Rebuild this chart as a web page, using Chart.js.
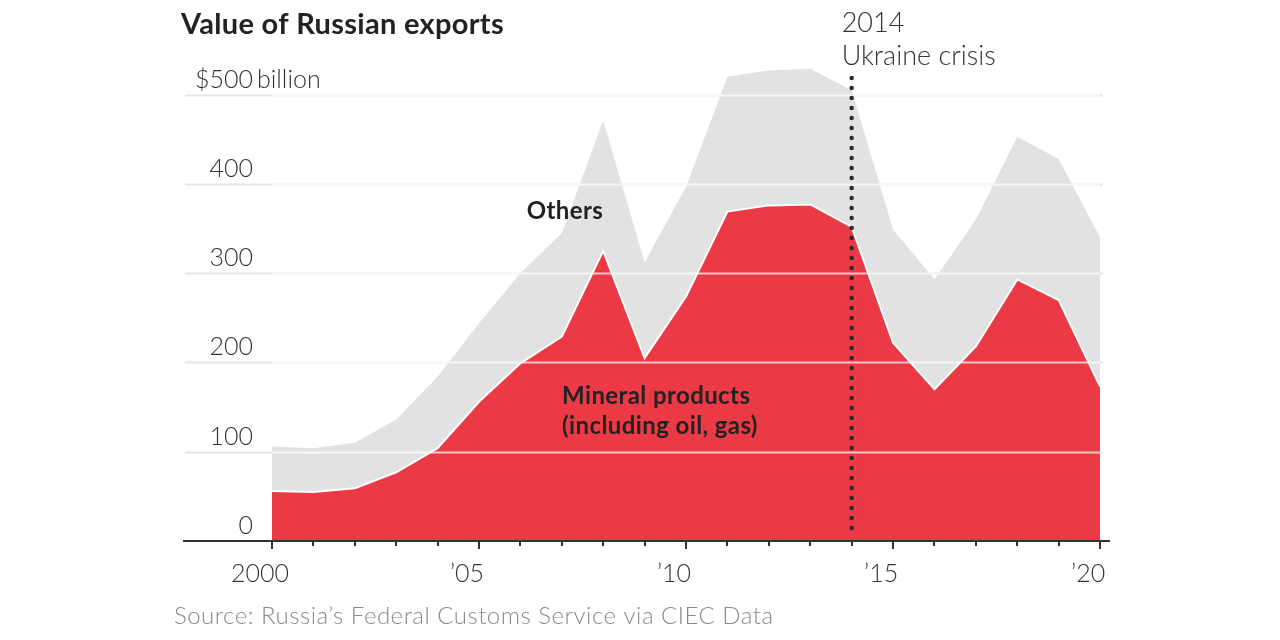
<!DOCTYPE html>
<html><head><meta charset="utf-8">
<script src="https://cdn.jsdelivr.net/npm/chart.js@4.4.1/dist/chart.umd.min.js"></script>
<style>html,body{margin:0;padding:0;background:#fff}#wrap{width:1280px;height:640px;position:relative}</style>
</head><body><div id="wrap"><canvas id="c" width="1280" height="640"></canvas></div>
<script>
const years = [2000,2001,2002,2003,2004,2005,2006,2007,2008,2009,2010,2011,2012,2013,2014,2015,2016,2017,2018,2019,2020];
const mineral = [56,55,59,77,104,156,199,229,325,205,274,369,376,377,352,222,170,218,293,270,173];
const total = [106,104,110,136,184,244,300,345,471,312,397,520,527,529,505,349,293,360,453,428,340];
const yTicks = [0,100,200,300,400,500];
const yLabels = ['0','100','200','300','400','$500'];
const xTickYears = years;
const xLabels = {2000:'2000',2005:'\u201905',2010:'\u201910',2015:'\u201915',2020:'\u201920'};
const eventYear = 2014;

const RED = '#eb3a45', GREY = '#e2e2e2', INK = '#333';
const FONT = 'Lato, "Open Sans", sans-serif';

const decor = {
  id: 'decor',
  beforeDatasetsDraw(chart) {
    const {ctx, chartArea: a, scales: {y}} = chart;
    ctx.save();
    ctx.strokeStyle = '#e6e6e6'; ctx.lineWidth = 2;
    yTicks.forEach(v => { if (v === 0) return; const py = Math.round(y.getPixelForValue(v)) + 0.5;
      ctx.beginPath(); ctx.moveTo(a.left, py); ctx.lineTo(a.right, py); ctx.stroke(); });
    ctx.restore();
  },
  afterDatasetsDraw(chart) {
    const {ctx, chartArea: a, scales: {x, y}} = chart;
    ctx.save();
    ctx.strokeStyle = 'rgba(255,255,255,0.7)'; ctx.lineWidth = 2;
    yTicks.forEach(v => { if (v === 0) return; const py = Math.round(y.getPixelForValue(v)) + 0.5;
      ctx.beginPath(); ctx.moveTo(x.getPixelForValue(years[0]), py); ctx.lineTo(x.getPixelForValue(years[years.length-1]), py); ctx.stroke(); });
    const y0 = y.getPixelForValue(0);
    ctx.strokeStyle = INK; ctx.lineWidth = 2;
    ctx.beginPath(); ctx.moveTo(a.left - 2, y0); ctx.lineTo(a.right + 7, y0); ctx.stroke();
    xTickYears.forEach(yr => {
      const px = Math.round(x.getPixelForValue(yr));
      const len = (yr % 5 === 0) ? 8 : 5;
      ctx.beginPath(); ctx.moveTo(px, y0); ctx.lineTo(px, y0 + len); ctx.stroke();
    });
    const ex = x.getPixelForValue(eventYear);
    ctx.setLineDash([0, 10]); ctx.lineCap = 'round'; ctx.lineWidth = 4.5; ctx.strokeStyle = '#2b2b2b';
    ctx.beginPath(); ctx.moveTo(ex, 78); ctx.lineTo(ex, y0 - 3); ctx.stroke();
    ctx.setLineDash([]);
    ctx.restore();
  },
  afterDraw(chart) {
    const {ctx, scales: {x, y}} = chart;
    ctx.save();
    ctx.fillStyle = INK; ctx.textBaseline = 'alphabetic';
    ctx.font = '300 25px ' + FONT;
    ctx.textAlign = 'right';
    yTicks.forEach((v, i) => { ctx.fillText(yLabels[i], 253, y.getPixelForValue(v) - 7); });
    ctx.textAlign = 'left';
    ctx.fillText('billion', 257, y.getPixelForValue(500) - 7);
    ctx.textAlign = 'center';
    ctx.font = '300 25px ' + FONT;
    Object.keys(xLabels).forEach(k => { ctx.fillText(xLabels[k], x.getPixelForValue(+k) - 12, 582); });
    // title
    ctx.textAlign = 'left'; ctx.fillStyle = '#222';
    ctx.letterSpacing = '0.3px';
    ctx.font = 'bold 29px ' + FONT;
    ctx.fillText('Value of Russian exports', 181, 34);
    ctx.letterSpacing = '0px';
    // annotation
    ctx.fillStyle = INK; ctx.font = '300 27px ' + FONT;
    ctx.fillText('2014', x.getPixelForValue(eventYear) - 10, 32);
    ctx.fillText('Ukraine crisis', x.getPixelForValue(eventYear) - 10, 65);
    // series labels
    ctx.fillStyle = '#222'; ctx.font = 'bold 24px ' + FONT;
    ctx.letterSpacing = '0.4px';
    ctx.textAlign = 'center';
    ctx.fillText('Others', 565, 219);
    ctx.textAlign = 'left';
    ctx.fillText('Mineral products', 562, 404);
    ctx.fillText('(including oil, gas)', 562, 434);
    // source
    ctx.fillStyle = '#8a8a8a'; ctx.font = '300 24px ' + FONT;
    ctx.letterSpacing = '0.5px';
    ctx.fillText('Source: Russia\u2019s Federal Customs Service via CIEC Data', 174, 624);
    ctx.restore();
  }
};

new Chart(document.getElementById('c'), {
  type: 'line',
  data: {
    datasets: [
      { label: 'Mineral products', data: years.map((yr, i) => ({x: yr, y: mineral[i]})),
        backgroundColor: RED, borderColor: '#ffffff', borderWidth: 2, fill: 'origin', pointRadius: 0, tension: 0 },
      { label: 'Others', data: years.map((yr, i) => ({x: yr, y: total[i]})),
        backgroundColor: GREY, borderColor: GREY, borderWidth: 0, fill: 'origin', pointRadius: 0, tension: 0 }
    ]
  },
  options: {
    responsive: false, animation: false, devicePixelRatio: 1,
    layout: { padding: { left: 185, right: 177, top: 59, bottom: 99 } },
    plugins: { legend: { display: false }, tooltip: { enabled: false } },
    scales: {
      x: { type: 'linear', min: 1997.9, max: 2020.07, display: false },
      y: { min: 0, max: 540, display: false }
    }
  },
  plugins: [decor]
});
</script></body></html>
